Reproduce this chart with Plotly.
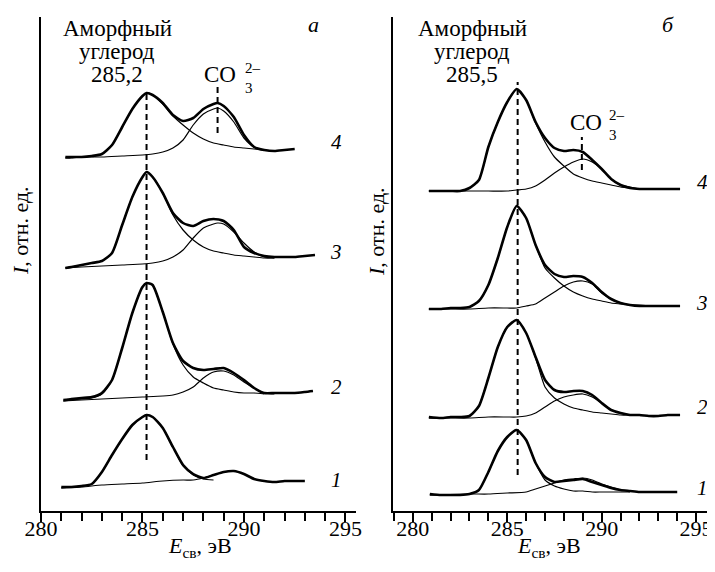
import plotly.graph_objects as go

# ---------------- data (binding energy, eV ; intensity, rel. units with stacking offset) ----------------
# Panel "а"
E_a4 = [281.2, 281.5, 282, 282.5, 283, 283.5, 284, 284.5, 285, 285.2, 285.5, 286, 286.5, 287, 287.5, 288, 288.5, 288.7, 289, 289.5, 290, 290.5, 291, 291.5, 292, 292.5]
env_a4 = [354, 354, 354, 355, 357, 366, 384, 402, 415, 418, 416, 408, 396, 390, 393, 402, 407, 408, 405, 394, 376, 364, 361, 360, 361, 362]
E_a4_c1 = [281.2, 281.5, 282, 282.5, 283, 283.5, 284, 284.5, 285, 285.2, 285.5, 286, 286.5, 287, 287.5, 288, 288.5, 289, 289.5, 290, 290.5, 291, 291.5]
c1_a4 = [353, 353, 354, 355, 357, 366, 384, 402, 415, 418, 416, 407, 395, 386, 378, 372, 368, 366, 364, 363, 362, 361, 360]
E_a4_c2 = [281.2, 282, 283, 284, 285, 285.5, 286, 286.5, 287, 287.5, 288, 288.5, 288.7, 289, 289.5, 290, 290.5, 291, 291.5]
c2_a4 = [353, 354, 354, 355, 356, 357, 359, 363, 371, 386, 397, 402, 403, 400, 389, 373, 364, 361, 360]

E_a3 = [281.2, 281.5, 282, 282.5, 283, 283.5, 284, 284.5, 285, 285.2, 285.5, 286, 286.5, 287, 287.5, 288, 288.5, 289, 289.5, 290, 290.5, 291, 291.5, 292, 292.5, 293, 293.5]
env_a3 = [243, 244, 246, 248, 250, 258, 286, 314, 334, 339, 334, 318, 298, 288, 285, 290, 292, 290, 281, 264, 258, 255, 254, 254, 254, 255, 256]
E_a3_c1 = [281.2, 281.5, 282, 282.5, 283, 283.5, 284, 284.5, 285, 285.2, 285.5, 286, 286.5, 287, 287.5, 288, 288.5, 289, 289.5, 290, 290.5, 291, 291.5]
c1_a3 = [243, 244, 246, 248, 250, 258, 286, 314, 334, 339, 334, 318, 296, 281, 271, 264, 260, 258, 256, 255, 254, 253, 253]
E_a3_c2 = [281.2, 282, 283, 284, 285, 285.5, 286, 286.5, 287, 287.5, 288, 288.5, 288.7, 289, 289.5, 290, 290.5, 291, 291.5]
c2_a3 = [243, 244, 245, 246, 247, 248, 250, 254, 261, 273, 283, 287, 288, 287, 279, 268, 259, 254, 253]

E_a2 = [281.1, 281.5, 282, 282.5, 283, 283.5, 284, 284.5, 285, 285.2, 285.5, 286, 286.5, 287, 287.5, 288, 288.5, 289, 289.5, 290, 290.5, 291, 291.5, 292, 292.5, 293, 293.4]
env_a2 = [111, 112, 113, 114, 118, 131, 163, 198, 224, 228, 226, 199, 168, 150, 143, 141, 142, 143, 138, 131, 123, 118, 118, 118, 118, 119, 120]
E_a2_c1 = [281.1, 281.5, 282, 282.5, 283, 283.5, 284, 284.5, 285, 285.2, 285.5, 286, 286.5, 287, 287.5, 288, 288.5, 289, 289.5, 290, 290.5, 291]
c1_a2 = [110, 111, 112, 113, 117, 131, 163, 198, 224, 228, 226, 199, 167, 146, 134, 128, 123, 121, 119, 118, 118, 117]
E_a2_c2 = [281.1, 282, 283, 284, 285, 286, 286.5, 287, 287.5, 288, 288.5, 289, 289.5, 290, 290.5, 291, 291.5]
c2_a2 = [110, 111, 112, 113, 114, 115, 116, 119, 124, 133, 139, 140, 136, 129, 123, 118, 117]

E_a1 = [281, 281.5, 282, 282.5, 283, 283.5, 284, 284.5, 285, 285.2, 285.5, 286, 286.5, 287, 287.5, 288, 288.5, 289, 289.5, 290, 290.5, 291, 291.5, 292, 292.5, 293]
env_a1 = [24, 24, 25, 27, 39, 56, 72, 86, 94, 96, 94, 83, 64, 46, 37, 33, 36, 39, 40, 37, 32, 30, 29, 30, 30, 30]
E_a1_c1 = [281, 281.5, 282, 282.5, 283, 283.5, 284, 284.5, 285, 285.2, 285.5, 286, 286.5, 287, 287.5, 288, 288.5]
c1_a1 = [23, 24, 25, 27, 39, 56, 72, 86, 94, 96, 94, 83, 64, 45, 36, 32, 31]
E_a1_c2 = [281, 282, 283, 284, 285, 286, 287, 287.5, 288, 288.5, 289, 289.5, 290, 290.5, 291, 291.5]
c2_a1 = [23, 24, 26, 27, 28, 30, 31, 31, 33, 36, 39, 40, 37, 32, 30, 29]

# Panel "б"
E_b4 = [280.85, 281.5, 282, 282.5, 283, 283.5, 284, 284.5, 285, 285.5, 286, 286.5, 287, 287.5, 288, 288.5, 289, 289.5, 290, 290.5, 291, 291.5, 292, 292.5, 293, 293.5, 294, 294.15]
env_b4 = [320, 320, 320, 320, 323, 331, 364, 389, 409, 422, 411, 389, 373, 363, 360, 361, 359, 351, 342, 332, 326, 323, 322, 322, 322, 322, 322, 322]
E_b4_c1 = [280.85, 281.5, 282, 282.5, 283, 283.5, 284, 284.5, 285, 285.5, 286, 286.5, 287, 287.5, 288, 288.5, 289, 289.5, 290, 290.5, 291, 291.5, 292, 292.5]
c1_b4 = [320, 320, 320, 320, 323, 331, 364, 389, 409, 422, 411, 388, 369, 354, 345, 337, 333, 330, 328, 326, 324, 323, 322, 322]
E_b4_c2 = [280.85, 282, 283, 284, 285, 285.5, 286, 286.5, 287, 287.5, 288, 288.5, 289, 289.5, 290, 290.5, 291, 291.5, 292]
c2_b4 = [320, 320, 320, 320, 320, 321, 322, 325, 331, 338, 344, 349, 352, 349, 342, 332, 326, 324, 322]

E_b3 = [280.85, 281.5, 282, 282.5, 283, 283.5, 284, 284.5, 285, 285.5, 286, 286.5, 287, 287.5, 288, 288.5, 289, 289.5, 290, 290.5, 291, 291.5, 292, 292.5, 293, 293.5, 294, 294.15]
env_b3 = [202, 202, 203, 203, 204, 210, 226, 253, 284, 305, 293, 266, 246, 237, 234, 235, 234, 228, 219, 212, 208, 206, 205, 205, 205, 205, 205, 205]
E_b3_c1 = [280.85, 281.5, 282, 282.5, 283, 283.5, 284, 284.5, 285, 285.5, 286, 286.5, 287, 287.5, 288, 288.5, 289, 289.5, 290, 290.5, 291, 291.5, 292, 292.5]
c1_b3 = [202, 202, 203, 203, 204, 210, 226, 253, 284, 305, 293, 266, 243, 233, 225, 219, 215, 212, 210, 208, 207, 206, 206, 205]
E_b3_c2 = [280.85, 282, 283, 284, 285, 285.5, 286, 286.5, 287, 287.5, 288, 288.5, 289, 289.5, 290, 290.5, 291, 291.5]
c2_b3 = [202, 202, 202, 203, 203, 203, 205, 207, 213, 219, 225, 229, 230, 227, 218, 212, 208, 206]

E_b2 = [280.85, 281.5, 282, 282.5, 283, 283.5, 284, 284.5, 285, 285.5, 286, 286.5, 287, 287.5, 288, 288.5, 289, 289.5, 290, 290.5, 291, 291.5, 292, 292.5, 293, 293.5, 294, 294.15]
env_b2 = [94, 93, 94, 94, 95, 105, 133, 164, 184, 191, 178, 154, 131, 121, 119, 120, 120, 116, 108, 101, 98, 96, 96, 95, 95, 96, 96, 96]
E_b2_c1 = [280.85, 281.5, 282, 282.5, 283, 283.5, 284, 284.5, 285, 285.5, 286, 286.5, 287, 287.5, 288, 288.5, 289, 289.5, 290, 290.5, 291, 291.5, 292]
c1_b2 = [93, 93, 94, 94, 95, 105, 133, 164, 184, 191, 178, 153, 124, 113, 107, 103, 101, 99, 98, 97, 96, 96, 96]
E_b2_c2 = [280.85, 282, 283, 284, 285, 285.5, 286, 286.5, 287, 287.5, 288, 288.5, 289, 289.5, 290, 290.5, 291, 291.5]
c2_b2 = [93, 93, 93, 94, 94, 94, 95, 98, 104, 110, 114, 116, 117, 114, 108, 101, 98, 96]

E_b1 = [280.9, 281.5, 282, 282.5, 283, 283.5, 284, 284.5, 285, 285.5, 286, 286.5, 287, 287.5, 288, 288.5, 289, 289.5, 290, 290.5, 291, 291.5, 292, 292.5, 293, 293.5, 294]
env_b1 = [17, 16, 16, 16, 17, 21, 39, 60, 74, 81, 71, 48, 34, 29, 30, 31, 32, 29, 26, 23, 21, 20, 19, 19, 19, 19, 19]
E_b1_c1 = [280.9, 281.5, 282, 282.5, 283, 283.5, 284, 284.5, 285, 285.5, 286, 286.5, 287, 287.5, 288, 288.5, 289, 289.5, 290, 290.5, 291, 291.5]
c1_b1 = [16, 16, 16, 16, 17, 21, 39, 60, 74, 81, 71, 48, 31, 25, 22, 20, 20, 19, 19, 19, 19, 19]
E_b1_c2 = [280.9, 283, 284, 285, 286, 286.5, 287, 287.5, 288, 288.5, 289, 289.5, 290, 290.5, 291, 291.5, 292]
c2_b1 = [16, 17, 17, 18, 19, 22, 25, 28, 31, 32, 33, 31, 27, 24, 21, 20, 19]

# peak position markers (energy, intensity span)
peak_C_a = 285.2
peak_C_a_span = [51, 419]
peak_CO3_a = 288.7
peak_CO3_a_span = [378, 424]
peak_C_b = 285.55
peak_C_b_span = [36, 429]
peak_CO3_b = 288.95
peak_CO3_b_span = [341, 374]

curve_numbers = ["1", "2", "3", "4"]

# ---------------- figure ----------------
# The page body has an 8 px margin, so the figure is 8 px smaller than the window on each side.
OFF = 8
W, H = 715 - OFF, 572 - OFF
FONT = "Liberation Serif, Times New Roman, DejaVu Serif, serif"
fig = go.Figure()

def add_spec(E, env, Ec1, c1, Ec2, c2, xa, ya):
    for ex, ey in ((Ec1, c1), (Ec2, c2)):
        fig.add_trace(go.Scatter(x=ex, y=ey, mode="lines", xaxis=xa, yaxis=ya,
                                 line=dict(color="black", width=1.2, shape="spline", smoothing=0.6),
                                 showlegend=False, hoverinfo="skip"))
    fig.add_trace(go.Scatter(x=E, y=env, mode="lines", xaxis=xa, yaxis=ya,
                             line=dict(color="black", width=2.6, shape="spline", smoothing=0.6),
                             showlegend=False, hoverinfo="skip"))

add_spec(E_a4, env_a4, E_a4_c1, c1_a4, E_a4_c2, c2_a4, "x", "y")
add_spec(E_a3, env_a3, E_a3_c1, c1_a3, E_a3_c2, c2_a3, "x", "y")
add_spec(E_a2, env_a2, E_a2_c1, c1_a2, E_a2_c2, c2_a2, "x", "y")
add_spec(E_a1, env_a1, E_a1_c1, c1_a1, E_a1_c2, c2_a1, "x", "y")
add_spec(E_b4, env_b4, E_b4_c1, c1_b4, E_b4_c2, c2_b4, "x2", "y2")
add_spec(E_b3, env_b3, E_b3_c1, c1_b3, E_b3_c2, c2_b3, "x2", "y2")
add_spec(E_b2, env_b2, E_b2_c1, c1_b2, E_b2_c2, c2_b2, "x2", "y2")
add_spec(E_b1, env_b1, E_b1_c1, c1_b1, E_b1_c2, c2_b1, "x2", "y2")

for pe, span, xa, ya in ((peak_C_a, peak_C_a_span, "x", "y"), (peak_CO3_a, peak_CO3_a_span, "x", "y"),
                         (peak_C_b, peak_C_b_span, "x2", "y2"), (peak_CO3_b, peak_CO3_b_span, "x2", "y2")):
    fig.add_trace(go.Scatter(x=[pe, pe], y=span, mode="lines", xaxis=xa, yaxis=ya,
                             line=dict(color="black", width=2, dash="6px,4px"),
                             showlegend=False, hoverinfo="skip"))

def px(x): return (x - OFF) / W
def py(y): return 1 - (y - OFF) / H

axis_common = dict(showline=True, linecolor="black", linewidth=2, showgrid=False, zeroline=False,
                   automargin=False)
xcommon = dict(axis_common, ticks="outside", ticklen=9, tickwidth=1.6, tickcolor="black",
               tickmode="linear", tick0=280, dtick=5, ticklabelstandoff=-12,
               tickfont=dict(family=FONT, size=22, color="black"),
               minor=dict(ticks="outside", ticklen=8, tickwidth=1.6, tickcolor="black", dtick=1, tick0=280, showgrid=False))
ycommon = dict(axis_common, showticklabels=False, ticks="", range=[0, 494],
               domain=[py(511), py(17)])

fig.update_layout(
    template="none",
    width=W, height=H, margin=dict(l=0, r=0, t=0, b=0, pad=0, autoexpand=False),
    plot_bgcolor="white", paper_bgcolor="white", showlegend=False,
    xaxis=dict(xcommon, domain=[px(41), px(356)], range=[280, 295.52], anchor="y"),
    yaxis=dict(ycommon, anchor="x"),
    xaxis2=dict(xcommon, domain=[px(393), 1.0], range=[278.95, 296.0], anchor="y2"),
    yaxis2=dict(ycommon, anchor="x2"),
    font=dict(family=FONT, color="black"),
)

anns = []
def A(x, y, text, size=22, angle=0):
    anns.append(dict(x=px(x), y=py(y), xref="paper", yref="paper", text=text, showarrow=False,
                     xanchor="center", yanchor="middle", textangle=angle,
                     font=dict(family=FONT, size=size, color="black")))

# panel а
A(117, 28, "Аморфный", 23)
A(117, 51, "углерод", 23)
A(117, 75, "285,2", 23)
A(220, 75, "CO", 23)
A(249, 88, "3", 15)
A(253, 68, "2–", 15)
A(313, 24, "<i>а</i>")
for n, yy in zip(curve_numbers, [480, 387, 252, 142]):
    A(336, yy, "<i>%s</i>" % n, 21)
A(200, 547, "<i>E</i><sub>св</sub>, эВ")
A(21, 231, "<i>I</i>, отн. ед.", 22, -90)

# panel б
A(472, 28, "Аморфный", 23)
A(472, 51, "углерод", 23)
A(472, 75, "285,5", 23)
A(586, 122, "CO", 23)
A(613, 135, "3", 15)
A(617, 115, "2–", 15)
A(668, 24, "<i>б</i>")
for n, yy in zip(curve_numbers, [488, 407, 303, 182]):
    A(702, yy, "<i>%s</i>" % n, 21)
A(549, 547, "<i>E</i><sub>св</sub>, эВ")
A(376, 232, "<i>I</i>, отн. ед.", 22, -90)

fig.update_layout(annotations=anns)
fig.write_html("out.html")
